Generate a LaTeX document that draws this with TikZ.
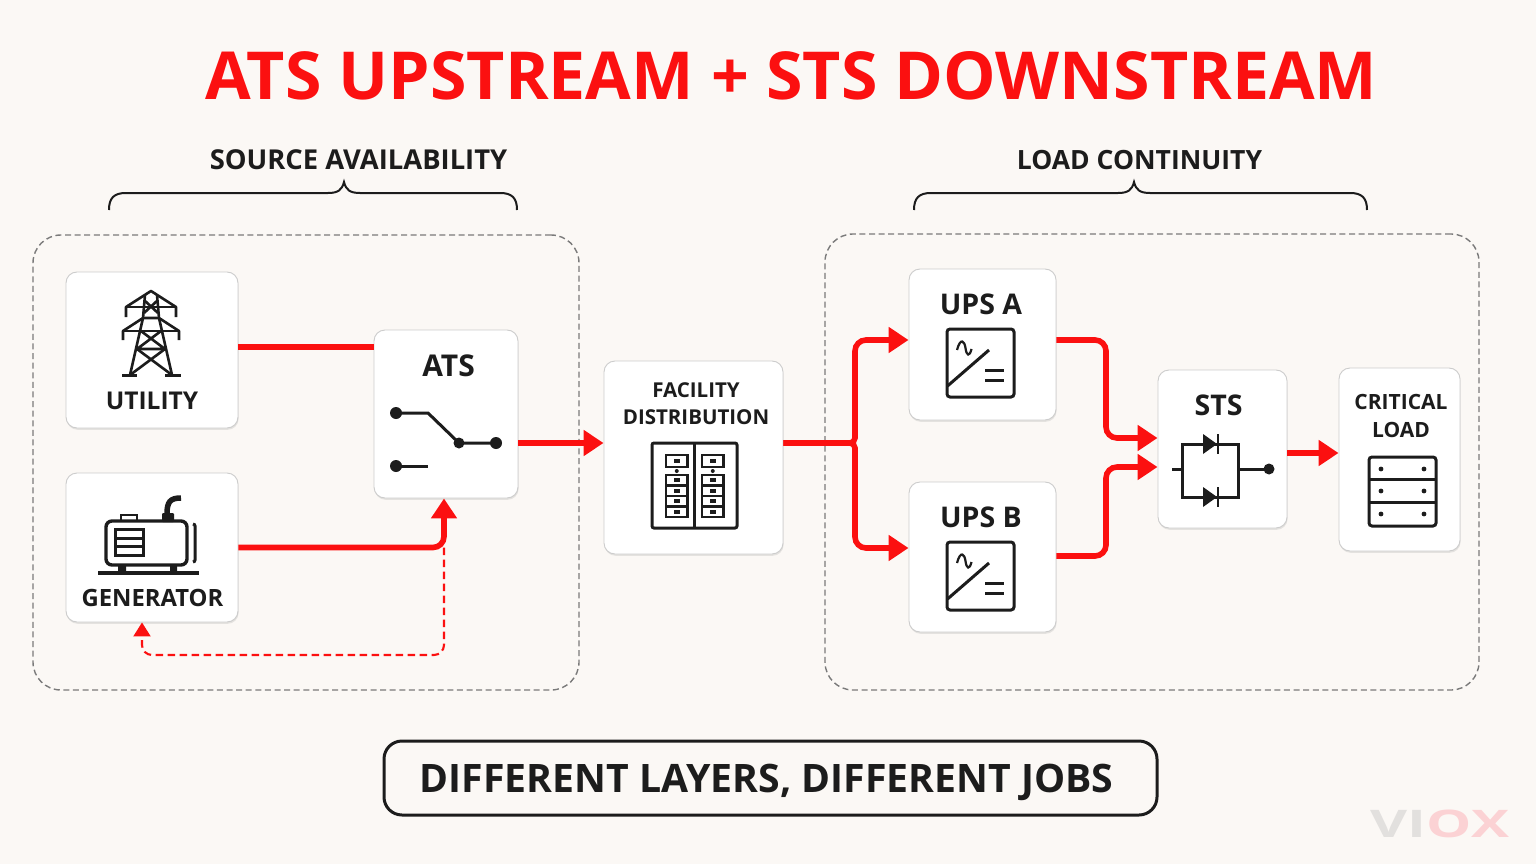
\documentclass[tikz,border=0pt]{standalone}
\usepackage{fontspec}
\setmainfont{Open Sans}[BoldFont={Open Sans Bold}]
\usepackage{xcolor}
\usetikzlibrary{arrows.meta,positioning,shadows}
\definecolor{pagebg}{HTML}{FBF8F5}
\definecolor{voltred}{HTML}{FB1010}
\definecolor{inkblack}{HTML}{1C1C1C}
\definecolor{markgrey}{HTML}{E2E0DE}
\definecolor{markpink}{HTML}{FBD2D4}

\tikzset{
inverter/.pic={
\draw[icon,rounded corners=3pt] (-33.5,-34) rectangle (33.5,34);
\draw[icon] (-33,23) -- (8.5,-13);
\draw[icon,line width=2.2pt] (-23.5,-13) .. controls (-20,-26) and (-16,-22) .. (-15,-15) .. controls (-14,-7) and (-11,-6) .. (-9,-14);
\draw[icon] (4.5,7) -- (23.5,7);
\draw[icon] (4.5,17) -- (23.5,17);
},
}

\begin{document}
\begin{tikzpicture}[
x=1pt,y=-1pt,
box/.style={draw=black!20,line width=.9pt,rounded corners=11pt,fill=white,drop shadow={opacity=.18,shadow xshift=.6pt,shadow yshift=-1.8pt}},
region/.style={draw=black!52,dashed,dash pattern=on 6pt off 3.6pt,line width=1.4pt,rounded corners=28pt},
wire/.style={draw=voltred,line width=5.6pt,rounded corners=11pt},
feed/.style={wire,-{Triangle[length=20pt,width=25pt]}},
ctrl/.style={draw=voltred,line width=2.1pt,dash pattern=on 7.5pt off 4.5pt,rounded corners=10pt,-{Triangle[length=14pt,width=17pt]}},
icon/.style={draw=inkblack,line width=3pt},
lbl/.style={text=inkblack,font=\bfseries\fontsize{24.5}{30}\selectfont,align=center,inner sep=0pt},
lblbig/.style={lbl,font=\bfseries\fontsize{28.5}{32}\selectfont},
lblsmall/.style={lbl,font=\bfseries\fontsize{20.5}{27}\selectfont},
head/.style={lbl,font=\bfseries\fontsize{27}{32}\selectfont},
brace/.style={draw=inkblack,line width=2pt},
]
\useasboundingbox (0,0) rectangle (1536,864);
\fill[pagebg] (0,0) rectangle (1536,864);

% title and the two layer headings
\node[inner sep=0pt,text=voltred,font=\bfseries\fontsize{66.2}{70}\selectfont] (title) at (791.5,76) {ATS UPSTREAM + STS DOWNSTREAM};
\node[head,font=\bfseries\fontsize{27.4}{32}\selectfont] (sourcehead) at (358.5,160) {SOURCE AVAILABILITY};
\node[head,font=\bfseries\fontsize{26.5}{32}\selectfont] (loadhead) at (1139.5,160) {LOAD CONTINUITY};
\draw[brace] (109,210) .. controls (109,198) and (114,193) .. (126,193) -- (328,193) .. controls (338,193) and (342,190) .. (344,182) .. controls (346,190) and (350,193) .. (360,193) -- (500,193) .. controls (512,193) and (517,198) .. (517,210);
\draw[brace] (914,210) .. controls (914,198) and (919,193) .. (931,193) -- (1118,193) .. controls (1128,193) and (1132,190) .. (1134,182) .. controls (1136,190) and (1140,193) .. (1150,193) -- (1350,193) .. controls (1362,193) and (1367,198) .. (1367,210);

% dashed regions
\node[region,minimum width=546pt,minimum height=455pt] (sourcezone) at (306,462.5) {};
\node[region,minimum width=654pt,minimum height=456pt] (loadzone) at (1152,462) {};

% boxes
\node[box,minimum width=172pt,minimum height=156pt] (utility) at (152,350) {};
\node[box,minimum width=172pt,minimum height=149pt] (generator) at (152,547.5) {};
\node[box,minimum width=144pt,minimum height=168pt] (ats) at (446,414) {};
\node[box,minimum width=179pt,minimum height=193pt] (facility) at (693.5,457.5) {};
\node[box,minimum width=147pt,minimum height=151pt] (upsa) at (982.5,344.5) {};
\node[box,minimum width=147pt,minimum height=150pt] (upsb) at (982.5,557) {};
\node[box,minimum width=129pt,minimum height=158pt] (sts) at (1222.5,449) {};
\node[box,minimum width=121pt,minimum height=183pt] (critical) at (1399.5,459.5) {};

\node[lbl] (utilitytxt) at (152,401) {UTILITY};
\node[lbl,font=\bfseries\fontsize{23.8}{28}\selectfont] (generatortxt) at (152.5,598) {GENERATOR};
\node[lblbig,font=\bfseries\fontsize{30}{32}\selectfont] (atstxt) at (448.5,366) {ATS};
\node[lblsmall] (facilitytxt) at (696,404) {FACILITY\\DISTRIBUTION};
\node[lblbig] (upsatxt) at (981,304) {UPS A};
\node[lblbig] (upsbtxt) at (981,517) {UPS B};
\node[lblbig] (ststxt) at (1218.5,405) {STS};
\node[lblsmall,font=\bfseries\fontsize{21}{28}\selectfont] (criticaltxt) at (1401,416) {CRITICAL\\LOAD};

% pylon
\begin{scope}[shift={(151,333)},icon,line width=2.6pt,line join=round]
\draw (-25,-16) -- (-25,-26) -- (0,-42) -- (25,-26) -- (25,-16);
\draw (-25,-26) -- (25,-26);
\draw (-28,7) -- (-28,-2) -- (-8,-15) (8,-15) -- (28,-2) -- (28,7);
\draw (-28,-2) -- (28,-2);
\draw (-6,-38) -- (-8,-15) -- (-21,42) (6,-38) -- (8,-15) -- (21,42);
\draw (-7,-33) -- (7,-20) (7,-33) -- (-7,-20) (-8,-15) -- (8,-15);
\draw (-10,-2) -- (14,16) (10,-2) -- (-14,16) (-14,16) -- (14,16);
\draw (-14,16) -- (21,42) (14,16) -- (-21,42);
\draw[line width=3pt] (-29,42) -- (-14,42) (14,42) -- (30,42);
\end{scope}

% generator set
\begin{scope}[icon]
\draw[rounded corners=6pt,line width=3.4pt] (106,521) rectangle (187,565);
\draw[line width=3pt] (115,529) rectangle (143,555) (115,538) -- (143,538) (115,546) -- (143,546);
\draw[line width=4.4pt] (98,573) -- (199,573);
\fill[inkblack] (118,565) rectangle (126,572) (170,565) rectangle (177,572);
\draw[line width=2.6pt] (121,521) -- (121,515) -- (137,515) -- (137,521);
\fill[inkblack,rounded corners=1pt] (162,513) rectangle (174,522);
\draw[line width=5.5pt] (167,514) .. controls (167,502) and (170,498) .. (181,498);
\draw[rounded corners=2pt,line width=3pt] (193,524) -- (195,524) -- (195,562) -- (193,562);
\end{scope}

% transfer switch
\draw[icon] (396,413) -- (428,413) -- (459,443) -- (496,443);
\draw[icon] (396,466) -- (428,466);
\fill[inkblack] (396,413) circle (6pt) (459,443) circle (5.5pt) (496,443) circle (6pt) (396,466) circle (6pt);

% distribution panel
\draw[icon,rounded corners=2pt] (652,443) rectangle (737,528);
\draw[icon] (694.5,443) -- (694.5,528);
\foreach \colx in {666,702} {
\draw[inkblack,line width=2.2pt] (\colx,455) rectangle ++(21.5,12);
\fill[inkblack] (\colx+10.75,471) circle (2pt);
\fill[inkblack] (\colx+8,459) rectangle ++(5.5,4);
\foreach \rowy in {475,485.5,496,506.5} {
\draw[inkblack,line width=2.2pt] (\colx,\rowy) rectangle ++(21.5,10.5);
\fill[inkblack] (\colx+8,\rowy+3.2) rectangle ++(5.5,4);
}
}

% converters
\pic at (980.5,363) {inverter};
\pic at (980.5,576) {inverter};

% static switch
\draw[icon] (1172,469) -- (1182,469) (1182,444) rectangle (1238,497) (1238,469) -- (1269,469);
\fill[inkblack] (1269,469) circle (5.5pt);
\foreach \diody in {444,497} {
\fill[inkblack] (1203,\diody-10) -- (1217,\diody) -- (1203,\diody+10) -- cycle;
\draw[inkblack,line width=2pt] (1218,\diody-10) -- (1218,\diody+10);
}

% server rack
\draw[icon,rounded corners=3pt] (1369,457) rectangle (1436,526);
\draw[icon] (1369,479.5) -- (1436,479.5) (1369,502.5) -- (1436,502.5);
\foreach \racky in {469,491,514} {
\fill[inkblack] (1381,\racky) circle (2.4pt) (1424,\racky) circle (2.4pt);
}

% connectors
\coordinate (tap) at ([xshift=-2pt]ats.south |- generator.east);
\coordinate (fork) at (855,443);
\coordinate (merge) at (1106,450);
\coordinate (ctrlturn) at (444,655);
\coordinate (atsout) at ([yshift=-29pt]ats.east);
\coordinate (distin) at (facility.west |- atsout);
\coordinate (distout) at (facility.east |- atsout);
\coordinate (upsain) at ([yshift=4.5pt]upsa.west);
\coordinate (upsbin) at ([yshift=9pt]upsb.west);
\coordinate (upsaout) at ([yshift=4.5pt]upsa.east);
\coordinate (upsbout) at ([yshift=1pt]upsb.east);
\coordinate (stsina) at ([yshift=11pt]sts.west);
\coordinate (stsinb) at ([yshift=-18pt]sts.west);
\coordinate (stsout) at ([yshift=-4pt]sts.east);

\draw[wire] ([yshift=3pt]utility.east) -- ([yshift=3pt]utility.east -| ats.west);
\draw[ctrl] (tap) -- (ctrlturn) -| ([xshift=-10pt]generator.south);
\draw[feed] (generator.east) -- (tap) -- ([xshift=-2pt]ats.south);
\draw[feed] (atsout) -- (distin);
\draw[feed] (distout) [rounded corners=5pt] -- (fork) [rounded corners=11pt] -- (fork |- upsain) -- (upsain);
\draw[feed] (distout) [rounded corners=5pt] -- (fork) [rounded corners=11pt] -- (fork |- upsbin) -- (upsbin);
\draw[feed] (upsaout) -| (merge |- stsina) -- (stsina);
\draw[feed] (upsbout) -| (merge |- stsinb) -- (stsinb);
\draw[feed] (stsout) -- (stsout -| critical.west);

% bottom caption
\node[draw=inkblack,line width=3pt,rounded corners=18pt,minimum width=773pt,minimum height=74pt] (jobs) at (770.5,778) {};
\node[inner sep=0pt,text=inkblack,font=\bfseries\fontsize{39.2}{42}\selectfont,anchor=base] (jobstxt) at (766.5,792) {DIFFERENT LAYERS, DIFFERENT JOBS};

% watermark
\node[inner sep=0pt,font=\bfseries\fontsize{38}{40}\selectfont] (viox) at (1440,824) {\scalebox{1.5}[1]{\textcolor{markgrey}{VI}\textcolor{markpink}{OX}}};
\end{tikzpicture}
\end{document}
